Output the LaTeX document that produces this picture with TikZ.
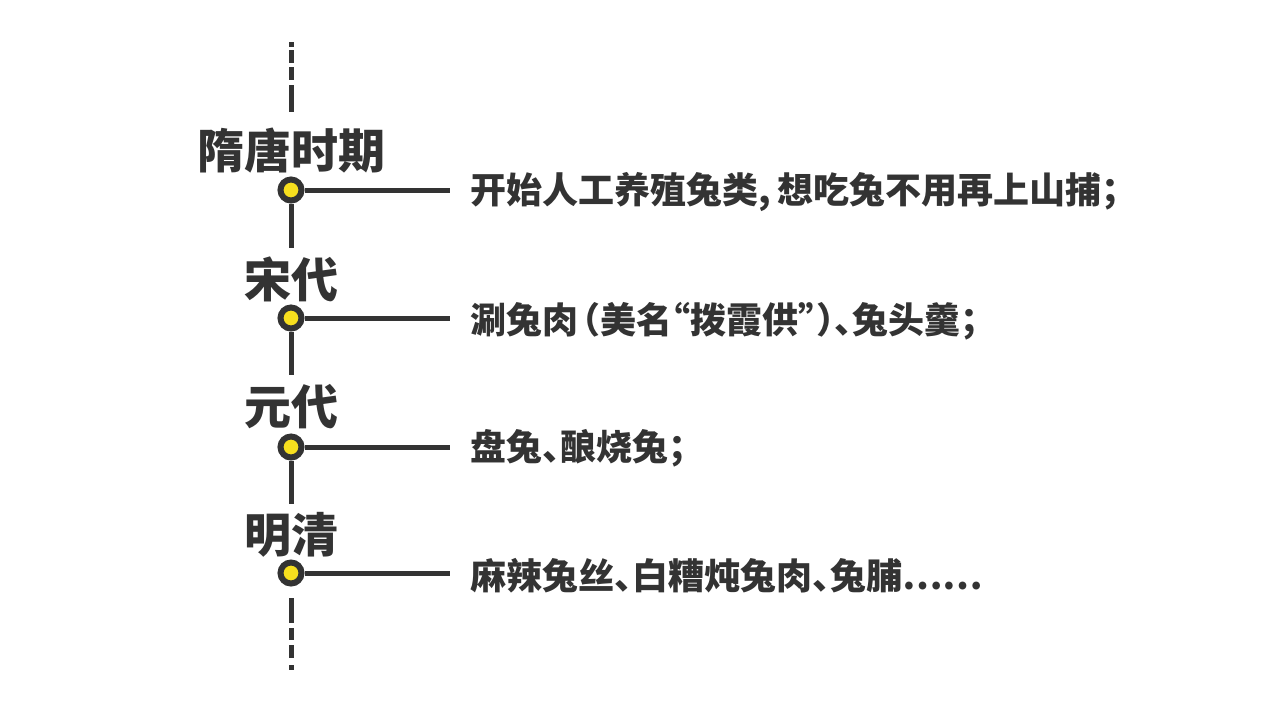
\documentclass[tikz,border=0pt]{standalone}
\usepackage{fontspec}
\newfontfamily\cjk{Noto Sans CJK SC}
\newfontfamily\cjkh{Noto Sans CJK SC}[RawFeature=+halt]
\definecolor{ink}{HTML}{333333}
\definecolor{dotyel}{HTML}{F7DF1E}
\tikzset{
  dot/.style={circle,draw=ink,fill=dotyel,line width=6pt,minimum size=21pt,inner sep=0pt},
  era/.style={text=ink,font=\cjk\bfseries\fontsize{47}{52}\selectfont,inner sep=0pt},
  desc/.style={text=ink,font=\cjkh\bfseries\fontsize{36}{40}\selectfont,inner sep=0pt,anchor=west},
  link/.style={draw=ink,line width=5pt,line cap=butt},
}
\begin{document}
\begin{tikzpicture}[x=1pt,y=-1pt]
\useasboundingbox[fill=white] (0,0) rectangle (1280,724);
% era labels
\node[era] (l1) at (291,151) {隋唐时期};
\node[era] (l2) at (291,279) {宋代};
\node[era] (l3) at (291,407) {元代};
\node[era] (l4) at (291,535) {明清};
% dots
\node[dot] (c1) at (291,190) {};
\node[dot] (c2) at (291,318) {};
\node[dot] (c3) at (291,447) {};
\node[dot] (c4) at (291,573) {};
% line ends
\coordinate (e1) at (450,190);
\coordinate (e2) at (450,318);
\coordinate (e3) at (450,447);
\coordinate (e4) at (450,573);
\coordinate (v1) at (291,248);
\coordinate (v2) at (291,375);
\coordinate (v3) at (291,504);
\coordinate (topa) at (291,42);
\coordinate (topb) at (291,112);
\coordinate (bota) at (291,598);
\coordinate (botb) at (291,670);
% descriptions
\node[desc] (t1) at (470,192) {开始人工养殖兔类,\hspace{7pt}想吃兔不用再上山捕；};
\node[desc] (t2) at (470,321) {涮兔肉\hspace{4pt}（美名“拨霞供”）、兔头羹；};
\node[desc] (t3) at (470,448) {盘兔、酿烧兔；};
\node[desc] (t4) at (470,576) {麻辣兔丝、白糟炖兔肉、兔脯……};
% connectors
\draw[link] (c1) -- (e1);
\draw[link] (c2) -- (e2);
\draw[link] (c3) -- (e3);
\draw[link] (c4) -- (e4);
\draw[link] (c1) -- (v1);
\draw[link] (c2) -- (v2);
\draw[link] (c3) -- (v3);
\draw[link,dash pattern=on 5pt off 3pt on 13pt off 4pt on 13pt off 5pt on 27pt] (topa) -- (topb);
\draw[link,dash pattern=on 25pt off 5pt on 12pt off 5pt on 13pt off 7pt on 5pt] (bota) -- (botb);
\end{tikzpicture}
\end{document}
